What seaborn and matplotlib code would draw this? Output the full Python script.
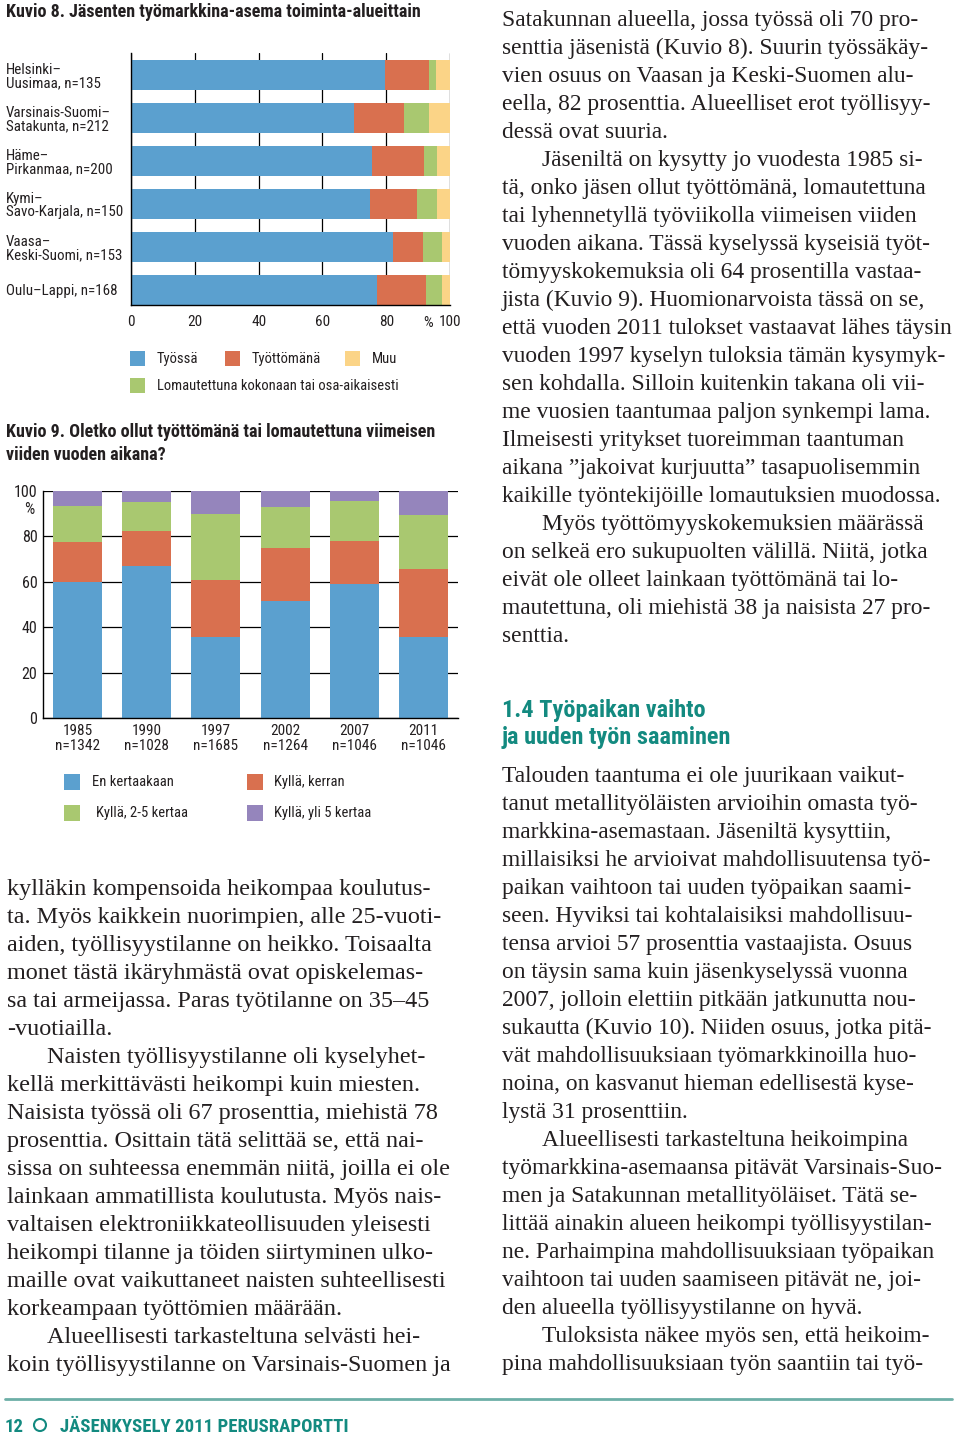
import numpy as np
import matplotlib
matplotlib.use('Agg')
import matplotlib.pyplot as plt
import matplotlib.transforms as mtransforms
from matplotlib.patches import Rectangle
from matplotlib import font_manager
import seaborn as sns

# Kuvio 8: työmarkkina-asema toiminta-alueittain (%)
alueet = ['Helsinki–\nUusimaa, n=135', 'Varsinais-Suomi–\nSatakunta, n=212',
          'Häme–\nPirkanmaa, n=200', 'Kymi–\nSavo-Karjala, n=150',
          'Vaasa–\nKeski-Suomi, n=153', 'Oulu–Lappi, n=168']
tyossa = [79.5, 70, 75.5, 75, 82, 77]
tyottomana = [14, 15.5, 16.5, 14.5, 9.5, 15.5]
lomautettuna = [2, 8, 4, 6.5, 6, 5]
muu = [4.5, 6.5, 4, 4, 2.5, 2.5]
x_ticks8 = [0, 20, 40, 60, 80, 100]

# Kuvio 9: työttömänä tai lomautettuna viimeisen viiden vuoden aikana (%)
vuodet = ['1985\nn=1342', '1990\nn=1028', '1997\nn=1685', '2002\nn=1264', '2007\nn=1046', '2011\nn=1046']
en_kertaakaan = [60, 67, 35.5, 51.5, 59, 35.5]
kylla_kerran = [17.5, 15.5, 25.5, 23.5, 19, 30]
kylla_2_5 = [16, 12.5, 29, 18, 17.5, 24]
kylla_yli_5 = [6.5, 5, 10, 7, 4.5, 10.5]
y_ticks9 = [0, 20, 40, 60, 80, 100]

# leipäteksti riveittäin (\t = kappaleen sisennys)
teksti_oikea_yla = [
    'Satakunnan alueella, jossa työssä oli 70 pro-',
    'senttia jäsenistä (Kuvio 8). Suurin työssäkäy-',
    'vien osuus on Vaasan ja Keski-Suomen alu-',
    'eella, 82 prosenttia. Alueelliset erot työllisyy-',
    'dessä ovat suuria.',
    '\tJäseniltä on kysytty jo vuodesta 1985 si-',
    'tä, onko jäsen ollut työttömänä, lomautettuna',
    'tai lyhennetyllä työviikolla viimeisen viiden',
    'vuoden aikana. Tässä kyselyssä kyseisiä työt-',
    'tömyyskokemuksia oli 64 prosentilla vastaa-',
    'jista (Kuvio 9). Huomionarvoista tässä on se,',
    'että vuoden 2011 tulokset vastaavat lähes täysin',
    'vuoden 1997 kyselyn tuloksia tämän kysymyk-',
    'sen kohdalla. Silloin kuitenkin takana oli vii-',
    'me vuosien taantumaa paljon synkempi lama.',
    'Ilmeisesti yritykset tuoreimman taantuman',
    'aikana ”jakoivat kurjuutta” tasapuolisemmin',
    'kaikille työntekijöille lomautuksien muodossa.',
    '\tMyös työttömyyskokemuksien määrässä',
    'on selkeä ero sukupuolten välillä. Niitä, jotka',
    'eivät ole olleet lainkaan työttömänä tai lo-',
    'mautettuna, oli miehistä 38 ja naisista 27 pro-',
    'senttia.',
]
teksti_oikea_ala = [
    'Talouden taantuma ei ole juurikaan vaikut-',
    'tanut metallityöläisten arvioihin omasta työ-',
    'markkina-asemastaan. Jäseniltä kysyttiin,',
    'millaisiksi he arvioivat mahdollisuutensa työ-',
    'paikan vaihtoon tai uuden työpaikan saami-',
    'seen. Hyviksi tai kohtalaisiksi mahdollisuu-',
    'tensa arvioi 57 prosenttia vastaajista. Osuus',
    'on täysin sama kuin jäsenkyselyssä vuonna',
    '2007, jolloin elettiin pitkään jatkunutta nou-',
    'sukautta (Kuvio 10). Niiden osuus, jotka pitä-',
    'vät mahdollisuuksiaan työmarkkinoilla huo-',
    'noina, on kasvanut hieman edellisestä kyse-',
    'lystä 31 prosenttiin.',
    '\tAlueellisesti tarkasteltuna heikoimpina',
    'työmarkkina-asemaansa pitävät Varsinais-Suo-',
    'men ja Satakunnan metallityöläiset. Tätä se-',
    'littää ainakin alueen heikompi työllisyystilan-',
    'ne. Parhaimpina mahdollisuuksiaan työpaikan',
    'vaihtoon tai uuden saamiseen pitävät ne, joi-',
    'den alueella työllisyystilanne on hyvä.',
    '\tTuloksista näkee myös sen, että heikoim-',
    'pina mahdollisuuksiaan työn saantiin tai työ-',
]
teksti_vasen_ala = [
    'kylläkin kompensoida heikompaa koulutus-',
    'ta. Myös kaikkein nuorimpien, alle 25-vuoti-',
    'aiden, työllisyystilanne on heikko. Toisaalta',
    'monet tästä ikäryhmästä ovat opiskelemas-',
    'sa tai armeijassa. Paras työtilanne on 35–45',
    '-vuotiailla.',
    '\tNaisten työllisyystilanne oli kyselyhet-',
    'kellä merkittävästi heikompi kuin miesten.',
    'Naisista työssä oli 67 prosenttia, miehistä 78',
    'prosenttia. Osittain tätä selittää se, että nai-',
    'sissa on suhteessa enemmän niitä, joilla ei ole',
    'lainkaan ammatillista koulutusta. Myös nais-',
    'valtaisen elektroniikkateollisuuden yleisesti',
    'heikompi tilanne ja töiden siirtyminen ulko-',
    'maille ovat vaikuttaneet naisten suhteellisesti',
    'korkeampaan työttömien määrään.',
    '\tAlueellisesti tarkasteltuna selvästi hei-',
    'koin työllisyystilanne on Varsinais-Suomen ja',
]

SININEN = '#5BA0CF'
PUNAINEN = '#D9704F'
VIHREA = '#A9C870'
KELTAINEN = '#FBD487'
VIOLETTI = '#9585BC'
TURKOOSI = '#138A80'
TEKSTI = '#231F20'

sns.set_theme(style='white')

# fontit: kapea groteski kaavioihin, antiikva leipätekstiin
nimet = {f.name for f in font_manager.fontManager.ttflist}
def valitse(ehdokkaat, oletus):
    for e in ehdokkaat:
        if e in nimet:
            return e
    return oletus
KAPEA = valitse(['Liberation Sans Narrow', 'Roboto Condensed', 'Open Sans Condensed'], 'DejaVu Sans')
SERIF = valitse(['Liberation Serif', 'DejaVu Serif'], 'DejaVu Serif')
plt.rcParams['font.family'] = [KAPEA, 'DejaVu Sans']
plt.rcParams['font.stretch'] = 'condensed'

fig = plt.figure(figsize=(9.6, 14.43), dpi=100)
fig.patch.set_facecolor('white')
W, H = 960, 1443
PX = mtransforms.Affine2D().scale(1 / W, -1 / H).translate(0, 1) + fig.transFigure

def akseli(x0, y0, x1, y1):
    return fig.add_axes([x0 / W, 1 - y1 / H, (x1 - x0) / W, (y1 - y0) / H])

def teksti(x, y, s, **kw):
    kw.setdefault('color', TEKSTI)
    kw.setdefault('va', 'baseline')
    return fig.text(x, y, s, transform=PX, **kw)

def ruutu(x, y, vari, koko=15):
    # PX-koordinaateissa y kasvaa alaspäin
    fig.patches.append(Rectangle((x, y), koko, koko, transform=PX, facecolor=vari,
                                 edgecolor='none'))

# ---------------- Kuvio 8 ----------------
teksti(6, 17, 'Kuvio 8. Jäsenten työmarkkina-asema toiminta-alueittain',
       fontsize=13, weight='bold')
ax8 = akseli(131, 53, 450, 305)
kerrokset8 = [tyossa, tyottomana, lomautettuna, muu]
varit8 = [SININEN, PUNAINEN, VIHREA, KELTAINEN]
kum8 = np.cumsum(kerrokset8, axis=0)
for i in reversed(range(len(kerrokset8))):
    sns.barplot(x=kum8[i], y=alueet, orient='h', color=varit8[i], saturation=1,
                width=0.70, errorbar=None, linewidth=0, ax=ax8)
ax8.set_xlim(0, 100)
ax8.set_ylim(5.35, -0.52)
ax8.set_xlabel('')
ax8.set_ylabel('')
ax8.set_xticks(x_ticks8)
ax8.set_xticklabels([str(v) for v in x_ticks8], fontsize=11, color=TEKSTI)
ax8.set_yticks(range(len(alueet)))
ax8.set_yticklabels(alueet, ha='left', fontsize=10.8, color=TEKSTI, linespacing=0.98)
for lbl in ax8.get_yticklabels():
    lbl.set_va('center_baseline')
ax8.tick_params(axis='y', length=0, pad=90)
ax8.tick_params(axis='x', direction='out', length=4, width=0.9, color='black', pad=3)
ax8.grid(axis='x', color='black', linewidth=0.9)
ax8.grid(axis='y', visible=False)
ax8.set_axisbelow(True)
for s in ['top', 'right']:
    ax8.spines[s].set_visible(False)
for s in ['left', 'bottom']:
    ax8.spines[s].set_color('black')
    ax8.spines[s].set_linewidth(1.0)
teksti(428, 327, '%', fontsize=11, ha='center')

nimet8 = ['Työssä', 'Työttömänä', 'Muu', 'Lomautettuna kokonaan tai osa-aikaisesti']
varit_leg8 = [SININEN, PUNAINEN, KELTAINEN, VIHREA]
paikat8 = [(130, 351), (225, 351), (345, 351), (130, 378)]
for nimi, vari, (x, y) in zip(nimet8, varit_leg8, paikat8):
    ruutu(x, y, vari)
    teksti(x + 27, y + 8, nimi, fontsize=10.5, va='center')

# ---------------- Kuvio 9 ----------------
teksti(6, 437, 'Kuvio 9. Oletko ollut työttömänä tai lomautettuna viimeisen',
       fontsize=13, weight='bold')
teksti(6, 460, 'viiden vuoden aikana?', fontsize=13, weight='bold')
ax9 = akseli(43, 491, 458, 718)
kerrokset9 = [en_kertaakaan, kylla_kerran, kylla_2_5, kylla_yli_5]
varit9 = [SININEN, PUNAINEN, VIHREA, VIOLETTI]
kum9 = np.cumsum(kerrokset9, axis=0)
for i in reversed(range(len(kerrokset9))):
    sns.barplot(x=vuodet, y=kum9[i], color=varit9[i], saturation=1, width=0.71,
                errorbar=None, linewidth=0, ax=ax9)
ax9.set_xlim(-0.5, 5.5)
ax9.set_ylim(0, 100)
ax9.set_xlabel('')
ax9.set_ylabel('')
ax9.set_yticks(y_ticks9)
ax9.set_yticklabels([str(v) for v in y_ticks9], fontsize=11.5, color=TEKSTI)
ax9.set_xticks(range(len(vuodet)))
ax9.set_xticklabels(vuodet, fontsize=11, color=TEKSTI, linespacing=1.1)
ax9.set_xticks(np.arange(0.5, len(vuodet), 1), minor=True)
ax9.tick_params(axis='x', which='major', length=0, pad=4.5)
ax9.tick_params(axis='x', which='minor', direction='in', length=4, width=1, color='black')
ax9.tick_params(axis='y', direction='out', length=2.5, width=0.9, color='black', pad=1.5)
ax9.grid(axis='y', color='black', linewidth=0.9)
ax9.grid(axis='x', visible=False)
ax9.set_axisbelow(True)
for s in ['top', 'right']:
    ax9.spines[s].set_visible(False)
for s in ['left', 'bottom']:
    ax9.spines[s].set_color('black')
    ax9.spines[s].set_linewidth(1.0)
teksti(29, 514, '%', fontsize=11.5, ha='center')

nimet9 = ['En kertaakaan', 'Kyllä, kerran', 'Kyllä, 2-5 kertaa', 'Kyllä, yli 5 kertaa']
paikat9 = [(64, 774, 92), (247, 774, 274), (64, 805, 96), (247, 805, 274)]
for nimi, vari, (x, y, tx) in zip(nimet9, varit9, paikat9):
    ruutu(x, y, vari, 16)
    teksti(tx, y + 8, nimi, fontsize=10.5, va='center')

# ---------------- leipäteksti ----------------
def kappale(rivit, x, y0, koko, rivivali=28, sisennys=40):
    for k, r in enumerate(rivit):
        dx = sisennys if r.startswith('\t') else 0
        teksti(x + dx, y0 + k * rivivali, r.lstrip('\t'), fontsize=koko, family=SERIF,
               stretch='normal')

kappale(teksti_oikea_yla, 502, 26, 16.9)
kappale(teksti_vasen_ala, 7, 895, 17.4)
teksti(502, 717, '1.4 Työpaikan vaihto', fontsize=17.5, weight='bold', color=TURKOOSI)
teksti(502, 744, 'ja uuden työn saaminen', fontsize=17.5, weight='bold', color=TURKOOSI)
kappale(teksti_oikea_ala, 502, 782, 16.9)

# ---------------- alatunniste ----------------
fig.add_artist(plt.Line2D([5, 952], [1399, 1399], transform=PX, color='#6DAFA7', linewidth=2))
teksti(5, 1432, '12', fontsize=13.5, weight='bold', color=TURKOOSI)
fig.add_artist(plt.Circle((40, 1425), 6, transform=PX, facecolor='none',
                          edgecolor=TURKOOSI, linewidth=1.5))
teksti(60, 1432, 'JÄSENKYSELY 2011 PERUSRAPORTTI', fontsize=13.5, weight='bold',
       color=TURKOOSI)

fig.savefig('out.png', dpi=100, facecolor='white')
